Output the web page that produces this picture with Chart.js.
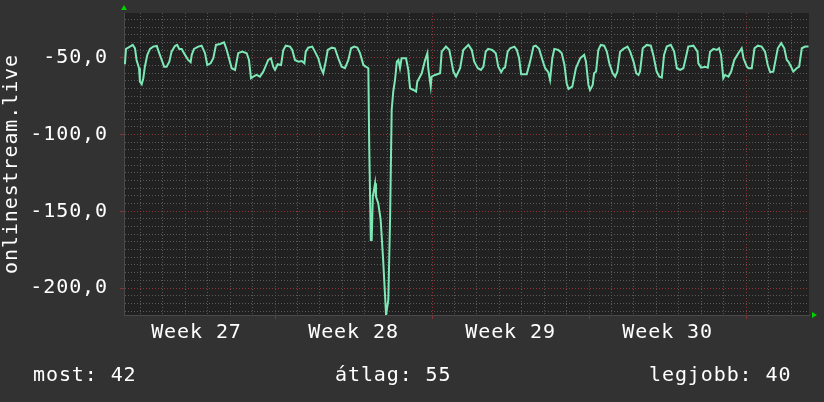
<!DOCTYPE html>
<html>
<head>
<meta charset="utf-8">
<script src="https://cdn.jsdelivr.net/npm/chart.js@4"></script>
<style>
  body { margin: 0; background: #323232; }
  #wrap { position: relative; width: 824px; height: 402px; }
  .foot { position: absolute; top: 362px; font: 20px "DejaVu Sans Mono", monospace; line-height: 24px; letter-spacing: 0.9px; color: #fff; white-space: pre; }
</style>
</head>
<body>
<div id="wrap">
  <canvas id="rrd" width="824" height="402"></canvas>
  <div class="foot" style="left:33px">most: 42</div>
  <div class="foot" style="left:335px">átlag: 55</div>
  <div class="foot" style="left:649px">legjobb: 40</div>
</div>
<script>
// days since monday of week 27
const days = [0.31,0.36,0.46,0.66,0.76,0.83,0.94,0.98,1.06,1.13,1.20,1.31,1.43,1.57,1.73,1.84,1.95,2.06,2.17,2.29,
  2.39,2.54,2.64,2.73,2.84,2.99,3.13,3.24,3.29,3.39,3.58,3.73,3.88,3.98,4.13,4.25,4.37,4.55,4.73,4.85,
  4.99,5.07,5.22,5.36,5.54,5.74,5.84,5.93,6.03,6.18,6.33,6.48,6.70,6.82,6.92,7.00,7.12,7.27,7.37,7.48,
  7.67,7.77,7.89,8.04,8.19,8.31,8.37,8.48,8.66,8.78,8.93,9.05,9.15,9.26,9.35,9.53,9.67,9.82,9.97,10.12,
  10.27,10.39,10.53,10.67,10.79,10.94,11.16,11.20,11.27,11.31,11.36,11.46,11.50,11.60,11.71,11.82,11.90,11.95,12.05,12.13,
  12.20,12.27,12.35,12.43,12.50,12.57,12.64,12.84,12.94,13.02,13.17,13.29,13.34,13.54,13.69,13.79,13.83,13.94,13.98,14.13,
  14.36,14.43,14.62,14.77,14.95,15.07,15.25,15.39,15.62,15.77,15.88,16.04,16.18,16.29,16.39,16.50,16.68,16.84,16.95,17.08,
  17.18,17.25,17.37,17.48,17.67,17.78,17.88,17.97,18.22,18.37,18.52,18.62,18.77,18.92,19.04,19.18,19.26,19.36,19.45,19.63,
  19.78,19.90,20.00,20.08,20.25,20.41,20.60,20.78,20.86,20.97,21.04,21.16,21.22,21.31,21.41,21.52,21.67,21.79,21.90,22.05,
  22.16,22.26,22.38,22.53,22.71,22.83,22.98,23.10,23.20,23.27,23.39,23.57,23.75,23.86,24.01,24.13,24.24,24.34,24.46,24.64,
  24.79,24.91,25.06,25.20,25.32,25.42,25.65,25.83,25.87,25.99,26.17,26.29,26.39,26.54,26.69,26.79,26.88,26.98,27.06,27.21,
  27.33,27.47,27.65,27.80,27.88,28.03,28.10,28.25,28.37,28.52,28.69,28.84,28.96,29.07,29.21,29.41,29.56,29.70,29.81,29.88,
  30.00,30.10,30.25,30.36,30.48,30.63,30.78];

const values = [-54.1,-44.1,-43.3,-41.5,-43.7,-51.3,-56.7,-65.5,-67.1,-63.2,-55.7,-48.0,-44.1,-42.6,-42.2,-46.9,-51.3,-55.7,-55.7,-52.4,
  -45.9,-42.2,-41.5,-44.1,-44.1,-48.0,-51.3,-52.8,-48.0,-44.1,-42.6,-42.0,-46.9,-54.6,-53.5,-50.2,-41.5,-40.9,-39.8,-44.8,
  -52.4,-56.7,-57.8,-46.9,-45.9,-46.9,-51.3,-63.2,-62.2,-61.1,-62.2,-58.9,-51.3,-50.2,-55.7,-57.8,-54.1,-54.6,-44.8,-42.0,
  -42.6,-44.8,-51.3,-52.4,-52.0,-53.5,-45.9,-43.3,-42.6,-45.9,-50.2,-56.7,-60.0,-52.4,-44.8,-43.3,-43.7,-50.2,-55.7,-56.7,
  -51.3,-43.7,-42.6,-43.3,-46.9,-54.6,-56.7,-107.8,-168.7,-168.7,-140.4,-131.7,-140.4,-144.7,-155.6,-181.7,-203.4,-217.6,-207.8,-154.5,
  -83.9,-72.0,-64.3,-52.4,-51.3,-56.7,-50.2,-50.2,-57.8,-69.8,-70.9,-72.0,-65.5,-60.0,-51.3,-46.9,-56.7,-68.7,-62.2,-61.1,
  -60.0,-45.9,-42.6,-44.8,-58.9,-62.2,-56.7,-44.8,-41.5,-44.8,-52.4,-56.7,-57.8,-55.7,-45.9,-44.1,-44.8,-46.9,-55.7,-59.3,
  -56.7,-56.3,-45.9,-43.7,-42.6,-44.8,-50.2,-60.6,-60.6,-52.4,-42.6,-42.0,-44.1,-51.3,-56.7,-59.3,-64.3,-50.2,-44.1,-44.8,
  -46.9,-54.6,-66.5,-70.2,-68.7,-56.7,-50.2,-48.0,-52.4,-67.6,-70.9,-67.6,-60.0,-58.9,-44.8,-41.5,-42.0,-45.9,-53.5,-60.0,
  -62.2,-58.9,-45.9,-44.1,-42.6,-45.9,-52.4,-60.0,-61.1,-58.9,-43.7,-41.5,-42.0,-48.0,-58.9,-62.2,-62.8,-48.0,-42.6,-41.5,
  -45.9,-56.7,-57.8,-56.7,-49.2,-42.6,-42.0,-45.9,-53.5,-56.3,-55.7,-56.3,-45.9,-44.1,-44.8,-43.7,-48.0,-63.2,-61.1,-62.2,
  -58.9,-51.3,-46.9,-43.7,-50.2,-55.7,-56.7,-56.7,-43.7,-42.0,-42.6,-45.9,-54.6,-59.3,-58.9,-43.7,-40.4,-43.7,-51.3,-52.4,
  -55.7,-58.9,-56.7,-55.7,-43.7,-42.6,-42.6];

const weekLabels = ['Week 27', 'Week 28', 'Week 29', 'Week 30'];
const weekMids = [3.5, 10.5, 17.5, 24.5];

const yMin = -217.6, yMax = -20.7;
const xMin = 0.27, xMax = 30.8;

const gridGray = '#595959';
const gridRed = '#8a3434';
const font = { family: 'DejaVu Sans Mono', size: 20 };

const plotBg = {
  id: 'plotBg',
  beforeDraw(chart) {
    const { ctx, chartArea: a } = chart;
    ctx.letterSpacing = '0.9px';
    ctx.save();
    ctx.fillStyle = '#212121';
    ctx.fillRect(a.left, a.top, a.right - a.left, a.bottom - a.top);
    ctx.restore();
  },
  afterDraw(chart) {
    // little green arrows at the axis ends
    const { ctx, chartArea: a } = chart;
    ctx.save();
    ctx.fillStyle = '#00d000';
    ctx.beginPath();
    ctx.moveTo(a.left - 3, a.top - 3);
    ctx.lineTo(a.left + 3, a.top - 3);
    ctx.lineTo(a.left, a.top - 8);
    ctx.fill();
    ctx.beginPath();
    ctx.moveTo(a.right + 3, a.bottom - 3);
    ctx.lineTo(a.right + 3, a.bottom + 3);
    ctx.lineTo(a.right + 8, a.bottom);
    ctx.fill();
    ctx.restore();
  }
};

new Chart(document.getElementById('rrd'), {
  type: 'line',
  data: {
    datasets: [{
      data: days.map((d, i) => ({ x: d, y: values[i] })),
      borderColor: '#7de8b6',
      borderWidth: 2,
      pointRadius: 0,
      tension: 0
    }]
  },
  options: {
    responsive: false,
    animation: false,
    layout: { padding: { left: 0, top: 13, right: 15, bottom: 52 } },
    plugins: { legend: { display: false }, tooltip: { enabled: false } },
    scales: {
      x: {
        type: 'linear',
        min: xMin,
        max: xMax,
        afterBuildTicks(scale) {
          const t = [];
          for (let d = 1; d <= 30; d++) t.push(d);
          weekMids.forEach(m => t.push(m));
          t.sort((a, b) => a - b);
          scale.ticks = t.map(v => ({ value: v }));
        },
        afterFit(scale) {
          scale.height = 35;
          scale.paddingLeft = 0;
          scale.paddingRight = 0;
        },
        grid: {
          color: ctx => {
            const v = ctx.tick.value;
            if (!Number.isInteger(v)) return 'transparent';
            return v % 7 === 0 ? gridRed : gridGray;
          },
          tickColor: ctx => (ctx.tick.value % 7 === 0 ? gridRed : 'transparent'),
          tickLength: 4
        },
        border: { color: '#4a4a4a', dash: [1, 2] },
        ticks: {
          color: '#ffffff',
          font: font,
          autoSkip: false,
          maxRotation: 0,
          padding: 2,
          callback: v => {
            const i = weekMids.indexOf(v);
            return i >= 0 ? weekLabels[i] : '';
          }
        }
      },
      y: {
        min: yMin,
        max: yMax,
        afterBuildTicks(scale) {
          const t = [];
          for (let v = -215; v <= -25; v += 5) t.push({ value: v });
          scale.ticks = t;
        },
        afterFit(scale) {
          scale.width = 124;
          scale.paddingTop = 0;
          scale.paddingBottom = 0;
        },
        grid: {
          color: ctx => (ctx.tick.value % 50 === 0 ? gridRed : gridGray),
          tickColor: ctx => (ctx.tick.value % 50 === 0 ? gridRed : 'transparent'),
          tickLength: 4
        },
        border: { color: '#4a4a4a', dash: [1, 2] },
        ticks: {
          color: '#ffffff',
          font: font,
          autoSkip: false,
          padding: 12,
          callback: v => (v % 50 === 0 ? v.toFixed(1).replace('.', ',') : '')
        },
        title: {
          display: true,
          text: 'onlinestream.live',
          color: '#ffffff',
          font: font,
          padding: 0
        }
      }
    }
  },
  plugins: [plotBg]
});
</script>
</body>
</html>
